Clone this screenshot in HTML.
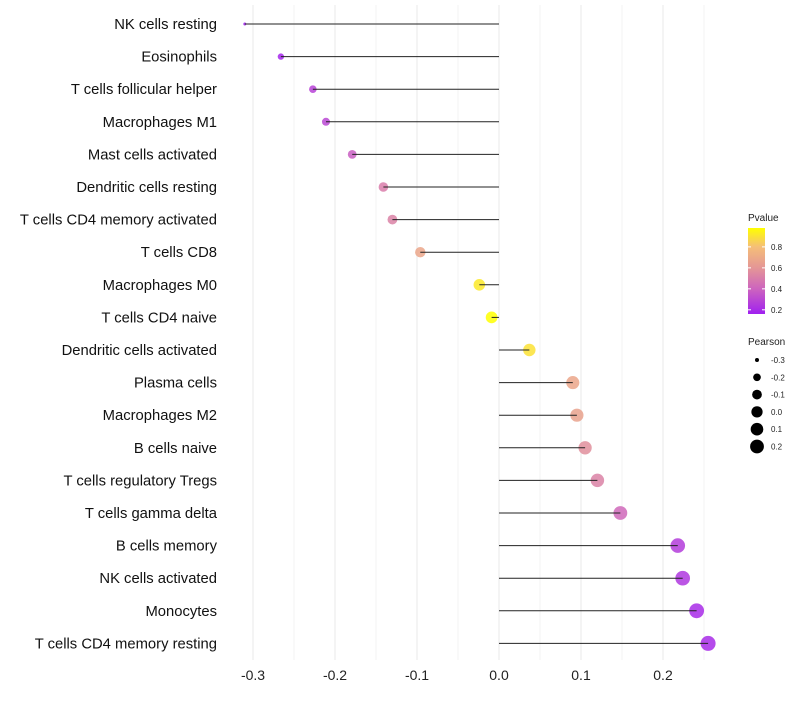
<!DOCTYPE html>
<html><head><meta charset="utf-8"><style>
body{margin:0;background:#fff;font-family:"Liberation Sans",sans-serif}
svg text{font-family:"Liberation Sans",sans-serif}
</style></head><body>
<svg id="chart" width="800" height="700"></svg>
<script>
const categories=["NK cells resting","Eosinophils","T cells follicular helper","Macrophages M1","Mast cells activated","Dendritic cells resting","T cells CD4 memory activated","T cells CD8","Macrophages M0","T cells CD4 naive","Dendritic cells activated","Plasma cells","Macrophages M2","B cells naive","T cells regulatory  Tregs ","T cells gamma delta","B cells memory","NK cells activated","Monocytes","T cells CD4 memory resting"];
const pearson=[-0.310,-0.266,-0.227,-0.211,-0.179,-0.141,-0.130,-0.096,-0.024,-0.009,0.037,0.090,0.095,0.105,0.120,0.148,0.218,0.224,0.241,0.255];
const pvalues=[0.15,0.18,0.28,0.30,0.38,0.50,0.52,0.68,0.92,0.98,0.90,0.68,0.66,0.57,0.52,0.42,0.26,0.24,0.20,0.20];
const xTicks=[-0.3,-0.2,-0.1,0.0,0.1,0.2];
const xTickLabels=["-0.3","-0.2","-0.1","0.0","0.1","0.2"];
const pTicks=[0.2,0.4,0.6,0.8];
const sizeLegend=[-0.3,-0.2,-0.1,0.0,0.1,0.2];
const sizeLegendLabels=["-0.3","-0.2","-0.1","0.0","0.1","0.2"];

const NS="http://www.w3.org/2000/svg";
const svg=document.getElementById('chart');
function el(t,a,p){const e=document.createElementNS(NS,t);for(const k in a)e.setAttribute(k,a[k]);(p||svg).appendChild(e);return e;}
const x=v=>499+v*820;
const y=i=>24+i*32.6;
const r=v=>1.5+6*Math.sqrt(Math.max(0,v+0.31)/0.565);
const stops=[[0.16,[160,32,240]],[0.4,[205,100,190]],[0.6,[228,150,150]],[0.8,[245,190,120]],[0.98,[255,255,0]]];
function color(p){if(p<=stops[0][0])return `rgb(${stops[0][1]})`;for(let i=1;i<stops.length;i++){if(p<=stops[i][0]){const t=(p-stops[i-1][0])/(stops[i][0]-stops[i-1][0]);const c=stops[i-1][1].map((a,j)=>Math.round(a+(stops[i][1][j]-a)*t));return `rgb(${c})`;}}return `rgb(${stops[stops.length-1][1]})`;}

for(let k=-6;k<=5;k++){const v=k*0.05;const g=el('line',{x1:x(v),x2:x(v),y1:5,y2:660,stroke:'#ebebeb','stroke-width':k%2==0?1.1:0.6});
}
xTicks.forEach((v,i)=>{const t=el('text',{x:x(v),y:680,'text-anchor':'middle','font-size':14,fill:'#222'});t.textContent=xTickLabels[i];
});
categories.forEach((c,i)=>{
 const t=el('text',{x:217,y:y(i)+5,'text-anchor':'end','font-size':14.8,fill:'#111'});t.textContent=c;
 
 const d=el('circle',{cx:x(pearson[i]),cy:y(i),r:r(pearson[i]),fill:color(pvalues[i]),'fill-opacity':0.85});
 
 const l=el('line',{x1:x(0),x2:x(pearson[i]),y1:y(i),y2:y(i),stroke:'#222','stroke-width':1});
 
});
const lt=el('text',{x:748,y:221,'font-size':10,fill:'#222'});lt.textContent='Pvalue';

const defs=el('defs',{});const gr=el('linearGradient',{id:'pg',x1:0,y1:1,x2:0,y2:0},defs);
stops.forEach(s=>el('stop',{offset:(s[0]-0.16)/0.82,'stop-color':`rgb(${s[1]})`},gr));
const cb=el('rect',{x:748,y:228,width:17,height:86,fill:'url(#pg)'});

const py=p=>314-(p-0.16)/0.82*86;
pTicks.forEach(p=>{el('line',{x1:748,x2:751,y1:py(p),y2:py(p),stroke:'#fff'});el('line',{x1:762,x2:765,y1:py(p),y2:py(p),stroke:'#fff'});
 const t=el('text',{x:771,y:py(p)+3,'font-size':8,fill:'#222'});t.textContent=p.toFixed(1);
 });
const st=el('text',{x:748,y:345,'font-size':10,fill:'#222'});st.textContent='Pearson';

sizeLegend.forEach((v,i)=>{const cy=360+i*17.3;
 const c=el('circle',{cx:757,cy:cy,r:r(v)-0.3,fill:'#000'});
 const t=el('text',{x:771,y:cy+3,'font-size':8,fill:'#222'});t.textContent=sizeLegendLabels[i];
 });
</script>
</body></html>
